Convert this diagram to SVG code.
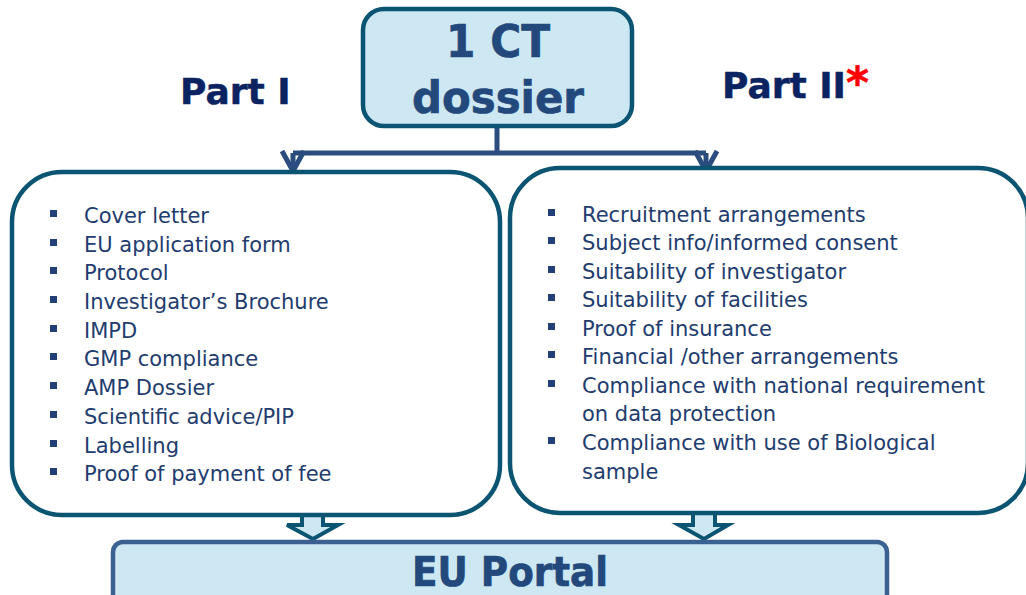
<svg xmlns="http://www.w3.org/2000/svg" width="1026" height="595" viewBox="0 0 1026 595">
  <style>
    .panel { fill: #ffffff; stroke: #0b5573; stroke-width: 4.5; }
    .head { fill: #cde8f3; stroke: #0b5573; stroke-width: 4.5; }
    .portal { fill: #cde8f3; stroke: #3a6191; stroke-width: 4.5; }
    .conn { fill: none; stroke: #2b4c7e; stroke-width: 5; stroke-linejoin: miter; }
    .blk { fill: #cde8f3; stroke: #0b5573; stroke-width: 4; stroke-linejoin: miter; }
    .big { font-family: "DejaVu Sans", Verdana, sans-serif; font-weight: bold; fill: #23497c; stroke: #23497c; stroke-width: 0.7; }
    .part { font-family: "DejaVu Sans", Verdana, sans-serif; font-weight: bold; fill: #0b2461; stroke: #0b2461; stroke-width: 0.5; font-size: 36px; }
    .item { font-family: "DejaVu Sans", Verdana, sans-serif; font-size: 21px; fill: #223c6e; }
    .bul { fill: #233f78; }
  </style>

  <g id="connectors">
    <path class="conn" d="M497,126 V153 M293,153 H706 M293,153 V171 M706,153 V171"/>
    <path class="conn" d="M282,151 L293,171 L304,151"/>
    <path class="conn" d="M695,151 L706,171 L717,151"/>
    <path class="blk" d="M302,513 H323 V525 H338 L313,539 L287,525 H302 Z"/>
    <path class="blk" d="M693,512 H715 V525 H728 L704,539 L679,525 H693 Z"/>
  </g>

  <g id="ct-dossier">
    <rect class="head" x="363" y="9" width="269" height="117" rx="21"/>
    <text class="big" x="498" y="57" font-size="45" text-anchor="middle" textLength="104" lengthAdjust="spacingAndGlyphs">1 CT</text>
    <text class="big" x="498" y="113" font-size="45" text-anchor="middle" textLength="172" lengthAdjust="spacingAndGlyphs">dossier</text>
  </g>

  <g id="part1-label">
    <text class="part" x="180" y="104">Part I</text>
  </g>
  <g id="part2-label">
    <text class="part" x="722" y="98">Part II<tspan fill="#ff0000" stroke="#ff0000" font-size="44">*</tspan></text>
  </g>

  <g id="part1">
    <rect class="panel" x="12" y="172" width="488" height="343" rx="50"/>
    <g class="bul">
      <rect x="50" y="210" width="7" height="7"/>
      <rect x="50" y="239" width="7" height="7"/>
      <rect x="50" y="267" width="7" height="7"/>
      <rect x="50" y="296" width="7" height="7"/>
      <rect x="50" y="325" width="7" height="7"/>
      <rect x="50" y="353" width="7" height="7"/>
      <rect x="50" y="382" width="7" height="7"/>
      <rect x="50" y="411" width="7" height="7"/>
      <rect x="50" y="440" width="7" height="7"/>
      <rect x="50" y="468" width="7" height="7"/>
    </g>
    <text class="item" x="84" y="223">Cover letter</text>
    <text class="item" x="84" y="252">EU application form</text>
    <text class="item" x="84" y="280">Protocol</text>
    <text class="item" x="84" y="309">Investigator’s Brochure</text>
    <text class="item" x="84" y="338">IMPD</text>
    <text class="item" x="84" y="366">GMP compliance</text>
    <text class="item" x="84" y="395">AMP Dossier</text>
    <text class="item" x="84" y="424">Scientific advice/PIP</text>
    <text class="item" x="84" y="453">Labelling</text>
    <text class="item" x="84" y="481">Proof of payment of fee</text>
  </g>

  <g id="part2">
    <rect class="panel" x="510" y="168" width="518" height="345" rx="50"/>
    <g class="bul">
      <rect x="548" y="209" width="7" height="7"/>
      <rect x="548" y="237" width="7" height="7"/>
      <rect x="548" y="266" width="7" height="7"/>
      <rect x="548" y="294" width="7" height="7"/>
      <rect x="548" y="323" width="7" height="7"/>
      <rect x="548" y="351" width="7" height="7"/>
      <rect x="548" y="380" width="7" height="7"/>
      <rect x="548" y="437" width="7" height="7"/>
    </g>
    <text class="item" x="582" y="222">Recruitment arrangements</text>
    <text class="item" x="582" y="250">Subject info/informed consent</text>
    <text class="item" x="582" y="279">Suitability of investigator</text>
    <text class="item" x="582" y="307">Suitability of facilities</text>
    <text class="item" x="582" y="336">Proof of insurance</text>
    <text class="item" x="582" y="364">Financial /other arrangements</text>
    <text class="item" x="582" y="393">Compliance with national requirement</text>
    <text class="item" x="582" y="421">on data protection</text>
    <text class="item" x="582" y="450">Compliance with use of Biological</text>
    <text class="item" x="582" y="479">sample</text>
  </g>

  <g id="eu-portal">
    <rect class="portal" x="113" y="542" width="774" height="66" rx="10"/>
    <text class="big" x="510" y="586" font-size="41" text-anchor="middle" textLength="196" lengthAdjust="spacingAndGlyphs">EU Portal</text>
  </g>
</svg>
